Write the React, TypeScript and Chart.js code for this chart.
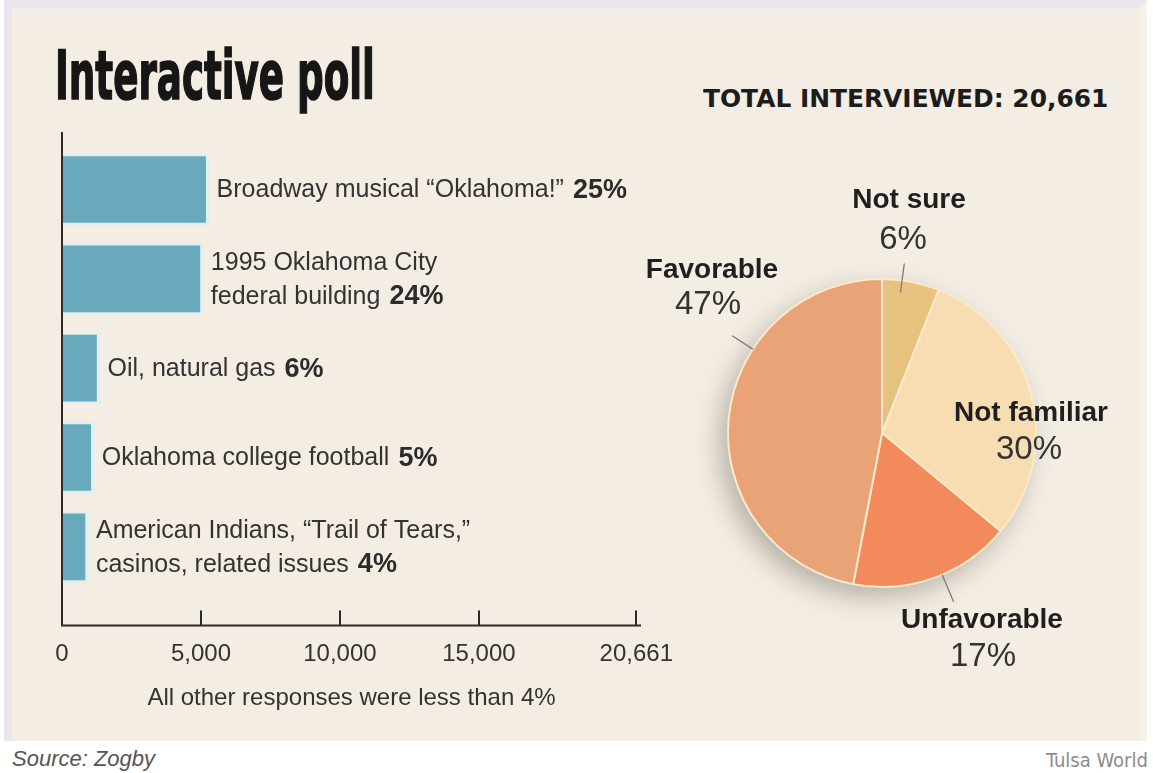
import React, { useEffect, useRef } from "react";
import { Chart, registerables } from "chart.js";

Chart.register(...registerables);

// ---------------- data ----------------
const TOTAL_INTERVIEWED = 20661;

const barCategories = [
  "Broadway musical \u201cOklahoma!\u201d",
  "1995 Oklahoma City federal building",
  "Oil, natural gas",
  "Oklahoma college football",
  "American Indians, \u201cTrail of Tears,\u201d casinos, related issues",
];
const barLabelLines = [
  ["Broadway musical \u201cOklahoma!\u201d"],
  ["1995 Oklahoma City", "federal building"],
  ["Oil, natural gas"],
  ["Oklahoma college football"],
  ["American Indians, \u201cTrail of Tears,\u201d", "casinos, related issues"],
];
const barPercentLabels = ["25%", "24%", "6%", "5%", "4%"];
const barValues = [5165, 4959, 1240, 1033, 826];
const xTickValues = [0, 5000, 10000, 15000, 20661];
const xNote = "All other responses were less than 4%";

const pieLabels = ["Not sure", "Not familiar", "Unfavorable", "Favorable"];
const pieValues = [6, 30, 17, 47];
const piePercentLabels = ["6%", "30%", "17%", "47%"];
const pieColors = ["#e7c27f", "#f7ddb1", "#f38a5b", "#e9a377"];

// ---------------- styles / layout ----------------
const SANS = "'Liberation Sans', Arial, sans-serif";
const NARROW = "'Liberation Sans Narrow', 'DejaVu Sans Condensed', 'Liberation Sans', sans-serif";
const PANEL = "#f3ede4";
const INK = "#2b2b2b";

// label offsets from pie centre (px) and leader lines [angle deg from top clockwise, inner r factor, outer r factor]
const pieLabelLayout = [
  { title: [27, -233], pct: [21, -193], leader: [7.5, 0.92, 1.11] },
  { title: [149, -20], pct: [147, 17], leader: null },
  { title: [100, 187], pct: [101, 224], leader: [157, 1.0, 1.19] },
  { title: [-170, -163], pct: [-174, -128], leader: [303, 1.0, 1.16] },
];

const barDecor = {
  id: "barDecor",
  beforeDatasetsDraw(chart: any) {
    const ctx = chart.ctx;
    const meta = chart.getDatasetMeta(0);
    ctx.save();
    ctx.fillStyle = "#e2efec";
    meta.data.forEach((bar: any) => {
      const h = bar.height;
      ctx.fillRect(bar.base, bar.y - h / 2 - 3, bar.x - bar.base + 4, h + 6);
    });
    ctx.restore();
  },
  afterDatasetsDraw(chart: any) {
    const ctx = chart.ctx;
    const { left, right, top, bottom } = chart.chartArea;
    const xs = chart.scales.x;
    ctx.save();
    ctx.strokeStyle = INK;
    ctx.lineWidth = 2;
    ctx.beginPath();
    ctx.moveTo(left, top);
    ctx.lineTo(left, bottom);
    ctx.lineTo(right, bottom);
    xTickValues.forEach((v) => {
      if (v === 0) return;
      const px = Math.round(xs.getPixelForValue(v));
      ctx.moveTo(px, bottom - 15);
      ctx.lineTo(px, bottom);
    });
    ctx.stroke();

    const meta = chart.getDatasetMeta(0);
    ctx.textBaseline = "middle";
    ctx.textAlign = "left";
    meta.data.forEach((bar: any, i: number) => {
      const lines = barLabelLines[i];
      const lh = 34;
      const cy = bar.y + 1;
      const y0 = cy - ((lines.length - 1) * lh) / 2;
      const x = bar.x + 11;
      lines.forEach((line: string, j: number) => {
        const y = y0 + j * lh;
        ctx.font = `25px ${SANS}`;
        ctx.fillStyle = "#333";
        ctx.fillText(line, x, y);
        if (j === lines.length - 1) {
          const w = ctx.measureText(line).width;
          ctx.font = `bold 27px ${SANS}`;
          ctx.fillStyle = INK;
          ctx.fillText(barPercentLabels[i], x + w + 9, y);
        }
      });
    });
    ctx.restore();
  },
};

const pieDecor = {
  id: "pieDecor",
  beforeDatasetsDraw(chart: any) {
    const ctx = chart.ctx;
    const arc = chart.getDatasetMeta(0).data[0];
    if (!arc) return;
    ctx.save();
    ctx.shadowColor = "rgba(70,60,50,0.35)";
    ctx.shadowBlur = 26;
    ctx.shadowOffsetX = -8;
    ctx.shadowOffsetY = 10;
    ctx.beginPath();
    ctx.arc(arc.x, arc.y, arc.outerRadius, 0, Math.PI * 2);
    ctx.fillStyle = pieColors[3];
    ctx.fill();
    ctx.restore();
  },
  afterDatasetsDraw(chart: any) {
    const ctx = chart.ctx;
    const arcs = chart.getDatasetMeta(0).data;
    if (!arcs.length) return;
    const cx = arcs[0].x;
    const cy = arcs[0].y;
    const r = arcs[0].outerRadius;
    ctx.save();
    ctx.textAlign = "center";
    ctx.textBaseline = "middle";
    pieLabels.forEach((label, i) => {
      const lay = pieLabelLayout[i];
      if (lay.leader) {
        const [deg, rin, rout] = lay.leader as number[];
        const a = ((deg - 90) * Math.PI) / 180;
        ctx.strokeStyle = "#7a7a7a";
        ctx.lineWidth = 1.3;
        ctx.beginPath();
        ctx.moveTo(cx + Math.cos(a) * r * rin, cy + Math.sin(a) * r * rin);
        ctx.lineTo(cx + Math.cos(a) * r * rout, cy + Math.sin(a) * r * rout);
        ctx.stroke();
      }
      ctx.fillStyle = "#1f1f1f";
      ctx.font = `bold 28px ${SANS}`;
      ctx.fillText(label, cx + lay.title[0], cy + lay.title[1]);
      ctx.fillStyle = "#333";
      ctx.font = `33px ${SANS}`;
      ctx.fillText(piePercentLabels[i], cx + lay.pct[0], cy + lay.pct[1]);
    });
    ctx.restore();
  },
};

export default function App() {
  const barRef = useRef<HTMLCanvasElement | null>(null);
  const pieRef = useRef<HTMLCanvasElement | null>(null);
  const titleRef = useRef<HTMLSpanElement | null>(null);
  const headRef = useRef<HTMLSpanElement | null>(null);
  const tulsaRef = useRef<HTMLSpanElement | null>(null);

  useEffect(() => {
    const fit = (el: HTMLSpanElement | null, target: number) => {
      if (!el) return;
      el.style.transform = "none";
      const w = el.offsetWidth;
      if (w > 0) el.style.transform = `scaleX(${target / w})`;
    };
    const doFit = () => {
      fit(titleRef.current, 320);
      fit(headRef.current, 405);
      fit(tulsaRef.current, 102);
    };
    doFit();
    if ((document as any).fonts && (document as any).fonts.ready) {
      (document as any).fonts.ready.then(doFit);
    }

    const barChart = new Chart(barRef.current as HTMLCanvasElement, {
      type: "bar",
      data: {
        labels: barCategories,
        datasets: [
          {
            data: barValues.map((v, i) => ({ x: v, y: i })) as any,
            backgroundColor: "#68a9bd",
            borderWidth: 0,
            barThickness: 66,
          } as any,
        ],
      },
      options: {
        indexAxis: "y",
        animation: false,
        responsive: false,
        devicePixelRatio: 1,
        layout: { padding: { left: 62, right: 59, top: 32, bottom: 27 } },
        plugins: { legend: { display: false }, tooltip: { enabled: false } },
        scales: {
          x: {
            type: "linear",
            min: 0,
            max: 20830,
            grid: { display: false, drawTicks: false },
            border: { display: false },
            afterBuildTicks: (s: any) => {
              s.ticks = xTickValues.map((v) => ({ value: v }));
            },
            ticks: {
              autoSkip: false,
              maxRotation: 0,
              padding: 15,
              color: "#333",
              font: { family: SANS, size: 24 },
              callback: (v: any) => Number(v).toLocaleString("en-US"),
            },
            title: {
              display: true,
              text: xNote,
              color: "#333",
              font: { family: SANS, size: 24 },
              padding: { top: 0, bottom: 0 },
            },
          },
          y: {
            type: "linear",
            reverse: true,
            min: -0.644,
            max: 4.88,
            offset: false,
            grace: 0,
            grid: { offset: false, display: false },
            display: false,
          },
        },
      } as any,
      plugins: [barDecor],
    });

    const pieChart = new Chart(pieRef.current as HTMLCanvasElement, {
      type: "pie",
      data: {
        labels: pieLabels,
        datasets: [
          {
            data: pieValues,
            backgroundColor: pieColors,
            borderColor: "#fbe9cb",
            borderWidth: 2,
          },
        ],
      },
      options: {
        animation: false,
        responsive: false,
        devicePixelRatio: 1,
        layout: { padding: { left: 87, right: 113, top: 108, bottom: 102 } },
        plugins: { legend: { display: false }, tooltip: { enabled: false } },
      } as any,
      plugins: [pieDecor],
    });

    return () => {
      barChart.destroy();
      pieChart.destroy();
    };
  }, []);

  return (
    <div
      style={{
        position: "fixed",
        left: 0,
        top: 0,
        width: 1153,
        height: 773,
        background: "#ffffff",
        overflow: "hidden",
      }}
    >
      <div
        style={{
          position: "absolute",
          left: 4,
          top: 0,
          width: 1143,
          height: 741,
          boxSizing: "border-box",
          background: PANEL,
          borderLeft: "8px solid #ebe6ee",
          borderTop: "8px solid #ebe6ee",
          borderRight: "6px solid #f6f2ea",
        }}
      />
      <div style={{ position: "absolute", left: 55, top: 43, whiteSpace: "nowrap" }}>
        <span
          ref={titleRef}
          style={{
            display: "inline-block",
            transformOrigin: "left top",
            fontFamily: NARROW,
            fontWeight: 700,
            fontSize: 67,
            lineHeight: "67px",
            color: "#161616",
            WebkitTextStroke: "1.6px #161616",
          }}
        >
          Interactive poll
        </span>
      </div>
      <div style={{ position: "absolute", left: 703, top: 86, whiteSpace: "nowrap" }}>
        <span
          ref={headRef}
          style={{
            display: "inline-block",
            transformOrigin: "left top",
            fontFamily: "'DejaVu Sans', sans-serif",
            fontWeight: 700,
            fontSize: 25,
            lineHeight: "25px",
            color: "#1c1c1c",
          }}
        >
          TOTAL INTERVIEWED: {TOTAL_INTERVIEWED.toLocaleString("en-US")}
        </span>
      </div>
      <canvas
        ref={barRef}
        width={700}
        height={640}
        style={{ position: "absolute", left: 0, top: 100, width: 700, height: 640 }}
      />
      <canvas
        ref={pieRef}
        width={510}
        height={520}
        style={{ position: "absolute", left: 640, top: 170, width: 510, height: 520 }}
      />
      <div
        style={{
          position: "absolute",
          left: 12,
          top: 748,
          fontFamily: SANS,
          fontStyle: "italic",
          fontSize: 22,
          lineHeight: "22px",
          color: "#555",
          whiteSpace: "nowrap",
        }}
      >
        Source: Zogby
      </div>
      <div style={{ position: "absolute", left: 1046, top: 750, whiteSpace: "nowrap" }}>
        <span
          ref={tulsaRef}
          style={{
            display: "inline-block",
            transformOrigin: "left top",
            fontFamily: NARROW,
            fontSize: 20,
            lineHeight: "20px",
            color: "#8c8c8c",
          }}
        >
          Tulsa World
        </span>
      </div>
    </div>
  );
}
